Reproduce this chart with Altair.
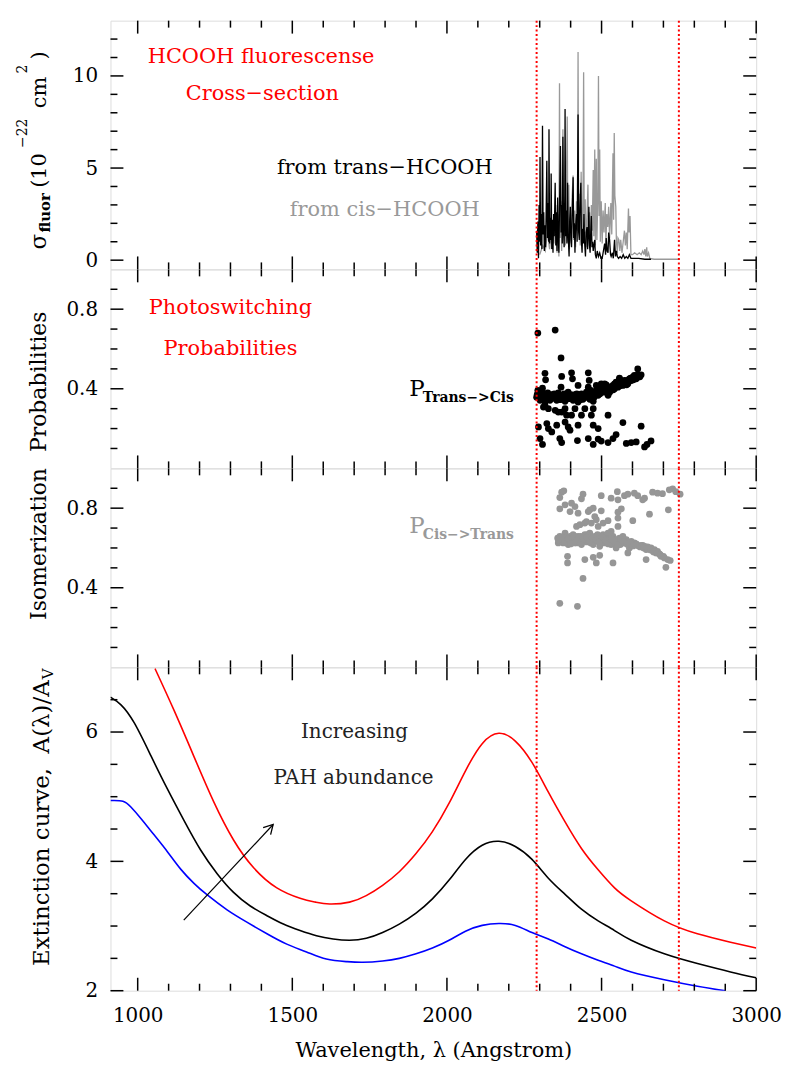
import altair as alt
import pandas as pd

FONT = "DejaVu Serif"
W = 649
H1, H2, H3, H4 = 250, 200, 200, 325

# ---------------- shared x ----------------
X_DOMAIN = [912, 3000]
X_MAJOR = [1000, 1500, 2000, 2500, 3000]
X_MINOR = [1100, 1200, 1300, 1400, 1600, 1700, 1800, 1900,
           2100, 2200, 2300, 2400, 2600, 2700, 2800, 2900]
WINDOW = [2290, 2750]

# ---------------- panel 1: fluorescence cross-section ----------------
SIG_DOMAIN = [-0.5, 13]
SIG_MAJOR = [0, 5, 10]
SIG_MINOR = [1, 2, 3, 4, 6, 7, 8, 9, 11, 12]

TRANS_WL = [2290, 2292, 2294, 2296, 2298, 2300, 2301, 2303, 2305, 2307, 2309, 2311, 2313, 2315,
            2317, 2319, 2321, 2323, 2325, 2327, 2329, 2330, 2332, 2334, 2336, 2337, 2339, 2341,
            2343, 2345, 2347, 2350, 2352, 2354, 2356, 2358, 2360, 2362, 2364, 2367, 2369, 2371,
            2373, 2375, 2377, 2379, 2381, 2382, 2384, 2386, 2388, 2390, 2392, 2395, 2397, 2399,
            2401, 2403, 2405, 2408, 2410, 2412, 2414, 2416, 2419, 2421, 2424, 2426, 2428, 2430,
            2433, 2435, 2437, 2439, 2441, 2443, 2445, 2448, 2450, 2453, 2455, 2457, 2459, 2461,
            2463, 2465, 2467, 2469, 2471, 2473, 2476, 2478, 2480, 2483, 2486, 2490, 2494, 2498,
            2502, 2506, 2510, 2513, 2515, 2518, 2521, 2523, 2526, 2529, 2531, 2535, 2538, 2542,
            2545, 2548, 2551, 2555, 2560, 2565, 2570, 2575, 2580, 2585, 2590, 2595, 2605, 2620,
            2640, 2660]
TRANS_SIG = [1.6, 0.4, 2.1, 0.1, 3.0, 1.0, 5.6, 0.8, 2.5, 0.6, 7.3, 1.4, 2.6, 0.5,
             1.9, 0.7, 2.8, 5.4, 1.2, 3.1, 1.0, 7.1, 0.9, 2.3, 1.1, 4.7, 0.6, 2.2,
             0.4, 2.5, 1.3, 4.2, 0.8, 2.6, 0.5, 3.4, 1.2, 0.4, 2.8, 6.2, 1.5, 3.0,
             0.9, 6.7, 1.6, 0.7, 3.5, 8.2, 1.3, 2.7, 0.9, 4.2, 1.4, 0.2, 2.2, 2.9,
             1.1, 0.7, 2.4, 4.5, 1.2, 2.0, 0.4, 1.8, 2.5, 1.0, 7.9, 1.5, 1.1, 2.8,
             4.2, 1.0, 0.4, 1.7, 0.9, 2.5, 1.0, 0.2, 1.5, 1.8, 0.6, 1.4, 2.9, 0.8,
             0.4, 1.5, 2.4, 0.7, 1.0, 0.5, 0.9, 1.1, 0.3, 0.1, 0.5, 0.2, 0.4, 0.1,
             0.1, 0.5, 0.9, 0.3, 1.2, 0.5, 0.4, 1.5, 1.1, 0.3, 0.2, 0.4, 0.1, 1.1,
             0.2, 0.5, 0.2, 0.1, 0.2, 0.1, 0.3, 0.1, 0.2, 0.1, 0.3, 0.1, 0.1, 0.1,
             0.05, 0.05]

CIS_WL = [2300, 2310, 2318, 2325, 2332, 2340, 2346, 2352, 2356, 2360, 2362, 2364, 2366, 2369,
          2371, 2375, 2377, 2380, 2383, 2386, 2389, 2391, 2394, 2396, 2399, 2402, 2405, 2408,
          2410, 2413, 2416, 2419, 2422, 2424, 2426, 2429, 2431, 2434, 2437, 2440, 2442, 2444,
          2447, 2450, 2453, 2456, 2458, 2461, 2464, 2467, 2470, 2473, 2475, 2478, 2480, 2483,
          2485, 2488, 2490, 2492, 2494, 2496, 2499, 2502, 2505, 2508, 2512, 2514, 2517, 2520,
          2523, 2526, 2530, 2533, 2537, 2539, 2541, 2543, 2546, 2548, 2551, 2553, 2556, 2559,
          2562, 2566, 2570, 2574, 2577, 2580, 2583, 2587, 2589, 2592, 2595, 2600, 2607, 2615,
          2622, 2628, 2633, 2637, 2640, 2643, 2646, 2648, 2652, 2656, 2670, 2700, 2751]
CIS_SIG = [0.3, 0.8, 0.5, 1.5, 0.6, 2.0, 0.9, 3.0, 0.4, 2.5, 0.2, 9.6, 1.2, 3.2,
           0.5, 7.1, 1.3, 2.6, 0.8, 3.8, 7.8, 1.0, 4.1, 0.6, 2.0, 0.9, 3.5, 4.6,
           1.1, 2.7, 0.7, 3.2, 1.6, 11.3, 2.1, 3.6, 0.8, 4.8, 1.3, 2.9, 10.2, 1.8,
           3.3, 0.7, 2.4, 4.1, 1.2, 2.6, 0.9, 3.0, 1.6, 4.9, 1.3, 6.0, 0.8, 5.5,
           1.1, 3.4, 10.0, 2.4, 6.0, 1.0, 3.2, 0.9, 2.7, 1.5, 3.1, 0.9, 2.5, 1.8,
           2.9, 1.2, 3.1, 1.4, 5.8, 2.2, 6.9, 3.5, 2.9, 1.0, 0.4, 1.2, 1.1, 0.5,
           1.1, 0.4, 1.0, 1.6, 0.8, 1.5, 0.6, 2.8, 1.5, 2.4, 0.3, 0.3, 0.4, 0.3,
           0.4, 0.3, 0.5, 0.3, 0.6, 0.2, 0.7, 0.2, 0.4, 0.1, 0.05, 0.05, 0.05]

# ---------------- panels 2 & 3: isomerization probabilities ----------------
P_DOMAIN = [0, 1]
P_MAJOR = [0.4, 0.8]
P_MINOR = [0.1, 0.2, 0.3, 0.5, 0.6, 0.7, 0.9]

T2C_WL = [2294, 2350, 2369, 2317, 2319, 2371, 2403, 2406, 2457, 2460, 2617, 2623, 2606, 2558,
          2542, 2585, 2499, 2483, 2515, 2424, 2369, 2309,
          2290, 2296, 2301, 2307, 2312, 2317, 2323, 2328, 2333, 2339, 2344, 2350, 2355, 2360,
          2365, 2371, 2376, 2382, 2387, 2392, 2398, 2403, 2408, 2414, 2419, 2424, 2430, 2435,
          2440, 2446, 2451, 2457, 2462, 2467, 2473, 2478, 2483, 2489, 2494, 2499, 2505, 2510,
          2515, 2521, 2531, 2537, 2542, 2547, 2553, 2558, 2564, 2569, 2574, 2580, 2585, 2590,
          2596, 2601, 2606, 2612, 2617, 2623, 2628,
          2294, 2304, 2315, 2326, 2336, 2347, 2358, 2379, 2390, 2401, 2411, 2422, 2433, 2444,
          2454, 2465, 2476, 2487, 2497, 2508, 2526, 2540, 2551, 2561, 2572, 2583, 2594,
          2292, 2302, 2313, 2324, 2334, 2345, 2356, 2366, 2377, 2388, 2398, 2409, 2420, 2431,
          2441, 2452, 2463, 2474, 2484, 2495, 2506, 2517, 2527, 2538, 2549, 2560, 2570, 2581,
          2592, 2603, 2614, 2624,
          2317, 2312, 2328, 2350, 2360, 2371, 2382, 2387, 2403, 2414, 2435, 2446, 2467, 2473,
          2521, 2296, 2323, 2328, 2339, 2355, 2382, 2392, 2398, 2424, 2473, 2489, 2569, 2628,
          2301, 2309, 2365, 2371, 2422, 2457, 2473, 2489, 2499, 2521, 2547, 2537, 2580, 2596,
          2612, 2639, 2647, 2660]
T2C_P = [0.68, 0.695, 0.555, 0.478, 0.445, 0.462, 0.48, 0.45, 0.48, 0.442, 0.5, 0.467, 0.463, 0.453,
         0.425, 0.437, 0.425, 0.417, 0.42, 0.417, 0.408, 0.403,
         0.358, 0.375, 0.342, 0.383, 0.35, 0.333, 0.367, 0.358, 0.342, 0.37, 0.353, 0.367, 0.342, 0.38,
         0.358, 0.35, 0.367, 0.337, 0.363, 0.383, 0.35, 0.358, 0.342, 0.37, 0.353, 0.333, 0.363, 0.375,
         0.347, 0.358, 0.383, 0.408, 0.347, 0.367, 0.337, 0.38, 0.392, 0.367, 0.4, 0.417, 0.383, 0.425,
         0.403, 0.367, 0.392, 0.417, 0.4, 0.433, 0.408, 0.45, 0.425, 0.417, 0.442, 0.433, 0.425, 0.45,
         0.442, 0.458, 0.467, 0.45, 0.47, 0.467, 0.47,
         0.392, 0.367, 0.358, 0.38, 0.35, 0.375, 0.358, 0.375, 0.35, 0.37, 0.347, 0.367, 0.35, 0.37,
         0.358, 0.392, 0.358, 0.383, 0.392, 0.4, 0.383, 0.408, 0.425, 0.433, 0.425, 0.442, 0.453,
         0.372, 0.36, 0.376, 0.345, 0.365, 0.36, 0.37, 0.345, 0.355, 0.375, 0.365, 0.36, 0.375, 0.345,
         0.37, 0.365, 0.375, 0.37, 0.38, 0.375, 0.395, 0.385, 0.41, 0.395, 0.42, 0.415, 0.435, 0.42,
         0.44, 0.445, 0.455, 0.46,
         0.317, 0.308, 0.3, 0.292, 0.283, 0.283, 0.3, 0.267, 0.267, 0.3, 0.267, 0.3, 0.267, 0.3,
         0.267, 0.208, 0.225, 0.2, 0.183, 0.217, 0.233, 0.208, 0.192, 0.217, 0.217, 0.2, 0.23, 0.212,
         0.15, 0.12, 0.15, 0.13, 0.14, 0.15, 0.12, 0.147, 0.137, 0.13, 0.17, 0.15, 0.125, 0.13,
         0.133, 0.108, 0.12, 0.138]

C2T_WL = [2371, 2378, 2365, 2440, 2435, 2499, 2531, 2551, 2553, 2574, 2585, 2606, 2617, 2633,
          2639, 2665, 2681, 2697, 2719, 2730, 2740, 2754,
          2365, 2382, 2403, 2414, 2398, 2424, 2457, 2462, 2473, 2499, 2478, 2483, 2553, 2564,
          2553, 2655, 2716, 2601,
          2419, 2430, 2446, 2451, 2467, 2489, 2505, 2521, 2553, 2531,
          2358, 2365, 2371, 2376, 2382, 2387, 2392, 2398, 2403, 2408, 2414, 2419, 2424, 2430,
          2435, 2440, 2446, 2451, 2457, 2462, 2467, 2473, 2478, 2483, 2489, 2494, 2499, 2505,
          2510, 2515, 2521, 2526, 2531, 2537, 2542, 2547, 2553, 2558, 2564, 2569, 2574, 2580,
          2585, 2590, 2596, 2601, 2606, 2612, 2617, 2628, 2639, 2644, 2649, 2660, 2665, 2671,
          2676, 2681, 2687, 2692, 2703, 2714, 2722, 2360, 2362,
          2369, 2379, 2390, 2401, 2411, 2422, 2433, 2444, 2454, 2465, 2476, 2487, 2497, 2508,
          2519, 2529, 2540, 2551, 2561, 2572, 2583, 2594, 2622, 2633,
          2360, 2370, 2380, 2392, 2400, 2412, 2420, 2432, 2442, 2452, 2462, 2472, 2482, 2492,
          2502, 2512, 2522, 2532, 2542, 2552, 2562, 2572, 2582, 2592, 2602, 2612, 2625, 2636,
          2648, 2658, 2668, 2680, 2690, 2700,
          2390, 2390, 2446, 2473, 2483, 2494, 2537, 2585, 2644, 2708, 2440, 2365, 2422]
C2T_P = [0.88, 0.887, 0.853, 0.87, 0.847, 0.863, 0.85, 0.883, 0.842, 0.863, 0.87, 0.875, 0.863, 0.842,
         0.85, 0.88, 0.875, 0.873, 0.892, 0.897, 0.883, 0.87,
         0.797, 0.817, 0.825, 0.808, 0.783, 0.775, 0.783, 0.792, 0.8, 0.787, 0.758, 0.742, 0.78, 0.797,
         0.75, 0.77, 0.792, 0.737,
         0.708, 0.717, 0.725, 0.733, 0.725, 0.708, 0.725, 0.737, 0.708, 0.683,
         0.65, 0.658, 0.642, 0.625, 0.675, 0.65, 0.617, 0.658, 0.633, 0.667, 0.642, 0.625, 0.658, 0.637,
         0.617, 0.653, 0.667, 0.63, 0.65, 0.675, 0.642, 0.617, 0.658, 0.633, 0.65, 0.608, 0.642, 0.667,
         0.625, 0.65, 0.675, 0.633, 0.617, 0.658, 0.642, 0.6, 0.625, 0.65, 0.633, 0.658, 0.625, 0.642,
         0.617, 0.6, 0.633, 0.617, 0.625, 0.62, 0.613, 0.613, 0.608, 0.592, 0.605, 0.6, 0.587, 0.592,
         0.575, 0.583, 0.57, 0.558, 0.55, 0.542, 0.537, 0.625, 0.642,
         0.633, 0.647, 0.637, 0.647, 0.625, 0.647, 0.658, 0.637, 0.667, 0.625, 0.647, 0.667, 0.625, 0.647,
         0.625, 0.65, 0.63, 0.642, 0.617, 0.642, 0.63, 0.617, 0.608, 0.613,
         0.64, 0.655, 0.63, 0.645, 0.62, 0.66, 0.64, 0.625, 0.645, 0.655, 0.635, 0.65, 0.64, 0.63,
         0.655, 0.64, 0.62, 0.645, 0.63, 0.615, 0.645, 0.63, 0.62, 0.625, 0.61, 0.615, 0.605, 0.6,
         0.595, 0.59, 0.58, 0.575, 0.565, 0.558,
         0.558, 0.525, 0.542, 0.553, 0.525, 0.563, 0.525, 0.575, 0.542, 0.503, 0.447, 0.322, 0.307]

# ---------------- panel 4: extinction curves ----------------
EXT_DOMAIN = [2, 7]
EXT_MAJOR = [2, 4, 6]
EXT_MINOR = [2.5, 3, 3.5, 4.5, 5, 5.5, 6.5]

RED_WL = [1056, 1118, 1182, 1246, 1310, 1375, 1450, 1525, 1575, 1621, 1685, 1739, 1792,
          1846, 1900, 1953, 2007, 2060, 2114, 2168, 2221, 2275, 2328, 2382, 2435, 2489,
          2542, 2596, 2703, 2810, 2917, 3000]
RED_A = [6.98, 6.33, 5.62, 4.92, 4.33, 3.90, 3.59, 3.43, 3.37, 3.34, 3.37, 3.47, 3.63,
         3.84, 4.12, 4.46, 4.90, 5.40, 5.82, 5.98, 5.86, 5.53, 5.07, 4.61, 4.20, 3.87,
         3.59, 3.39, 3.08, 2.88, 2.75, 2.66]
BLACK_WL = [912, 946, 989, 1043, 1096, 1150, 1203, 1257, 1310, 1364, 1418, 1471, 1525, 1578,
            1632, 1685, 1739, 1792, 1846, 1900, 1953, 2007, 2060, 2114, 2168, 2221, 2275,
            2328, 2382, 2435, 2489, 2542, 2596, 2703, 2810, 2917, 3000]
BLACK_A = [6.54, 6.42, 6.14, 5.63, 5.12, 4.63, 4.18, 3.81, 3.52, 3.31, 3.16, 3.03, 2.93, 2.85,
           2.80, 2.78, 2.81, 2.90, 3.03, 3.20, 3.42, 3.71, 4.03, 4.25, 4.31, 4.23, 4.03,
           3.74, 3.49, 3.26, 3.08, 2.93, 2.78, 2.57, 2.42, 2.29, 2.20]
BLUE_WL = [912, 952, 978, 1011, 1053, 1096, 1139, 1182, 1225, 1289, 1353, 1418, 1482, 1546,
           1610, 1675, 1728, 1792, 1846, 1900, 1953, 2007, 2060, 2114, 2168, 2221, 2275,
           2328, 2382, 2435, 2489, 2542, 2596, 2703, 2810, 2901]
BLUE_A = [4.94, 4.93, 4.84, 4.66, 4.41, 4.15, 3.88, 3.66, 3.48, 3.25, 3.06, 2.88, 2.72, 2.60,
          2.49, 2.45, 2.44, 2.46, 2.50, 2.57, 2.66, 2.78, 2.92, 3.01, 3.04, 3.01, 2.90,
          2.80, 2.68, 2.57, 2.47, 2.38, 2.29, 2.17, 2.07, 2.00]
ARROW_WL = [1149, 1438]
ARROW_A = [3.09, 4.57]

RED = "#ff0000"
GRAY = "#999999"
DOTGRAY = "#969696"
MAJ_LEN, MIN_LEN = 13, 7
NB = "\u00a0"


def make_x(axis):
    return alt.X("wl:Q", scale=alt.Scale(domain=X_DOMAIN, nice=False, zero=False), axis=axis)


def make_y(domain, labels, fmt):
    return alt.Y("v:Q", scale=alt.Scale(domain=domain, nice=False, zero=False),
                 axis=alt.Axis(values=labels, format=fmt, ticks=False, tickSize=0, domain=False,
                               grid=False, title=None, labelPadding=13, labelFont=FONT,
                               labelFontSize=20, labelColor="black"))


def frame_layers(X, Y, h, ymaj, ymin):
    out = []
    for vals, L in ((X_MAJOR, MAJ_LEN), (X_MINOR, MIN_LEN)):
        base = alt.Chart(pd.DataFrame({"wl": vals})).mark_rule(color="black", strokeWidth=1.5)
        out.append(base.encode(x=X, y=alt.value(0), y2=alt.value(L)))
        out.append(base.encode(x=X, y=alt.value(h), y2=alt.value(h - L)))
    for vals, L in ((ymaj, MAJ_LEN), (ymin, MIN_LEN)):
        base = alt.Chart(pd.DataFrame({"v": vals})).mark_rule(color="black", strokeWidth=1.5)
        out.append(base.encode(y=Y, x=alt.value(0), x2=alt.value(L)))
        out.append(base.encode(y=Y, x=alt.value(W), x2=alt.value(W - L)))
    out.append(alt.Chart(pd.DataFrame({"wl": WINDOW})).mark_rule(
        color=RED, strokeWidth=2, strokeDash=[2, 2.5]).encode(
        x=X, y=alt.value(0), y2=alt.value(h)))
    out.append(alt.Chart(pd.DataFrame({"s": [0]})).mark_rule(color="white", strokeWidth=1).encode(
        x=alt.value(-101.5), y=alt.value(0), y2=alt.value(2)))
    return out


def dtxt(text, wl, v, X, Y, **kw):
    df = pd.DataFrame({"wl": [wl], "v": [v], "t": [text]})
    return alt.Chart(df).mark_text(font=FONT, **kw).encode(x=X, y=Y, text="t:N")


def ptxt(text, px, py, **kw):
    df = pd.DataFrame({"t": [text]})
    return alt.Chart(df).mark_text(font=FONT, **kw).encode(x=alt.value(px), y=alt.value(py), text="t:N")


# ---------------- panel 1 ----------------
X = make_x(None)
Y1 = make_y(SIG_DOMAIN, SIG_MAJOR, "d")
cis = alt.Chart(pd.DataFrame({"wl": CIS_WL, "v": CIS_SIG})).mark_line(
    color=GRAY, strokeWidth=1.3).encode(x=X, y=Y1)
trans = alt.Chart(pd.DataFrame({"wl": TRANS_WL, "v": TRANS_SIG})).mark_line(
    color="black", strokeWidth=1.3).encode(x=X, y=Y1)
rot = dict(angle=270, align="left", baseline="alphabetic", color="black")
p1 = alt.layer(
    cis, trans,
    dtxt("HCOOH fluorescense", 1399, 11.0, X, Y1, color=RED, fontSize=21),
    dtxt("Cross−section", 1403, 9.0, X, Y1, color=RED, fontSize=21),
    dtxt("from trans−HCOOH", 1799, 5.0, X, Y1, color="black", fontSize=21),
    dtxt("from cis−HCOOH", 1799, 2.71, X, Y1, color=GRAY, fontSize=21),
    ptxt("σ", -65, 230, fontSize=23, **rot),
    ptxt("fluor", -61, 213, fontSize=15, fontWeight="bold", **rot),
    ptxt("(10", -65, 168, fontSize=21, **rot),
    ptxt("−22", -84, 128, fontSize=14, **rot),
    ptxt("cm", -65, 88, fontSize=21, **rot),
    ptxt("2", -84, 53, fontSize=14, **rot),
    ptxt(")", -65, 39, fontSize=21, **rot),
    *frame_layers(X, Y1, H1, SIG_MAJOR, SIG_MINOR),
).properties(width=W, height=H1)

# ---------------- panel 2 ----------------
Y2 = make_y(P_DOMAIN, P_MAJOR, ".1f")
pts2 = alt.Chart(pd.DataFrame({"wl": T2C_WL, "v": T2C_P})).mark_circle(
    size=46, color="black", opacity=1).encode(x=X, y=Y2)
p2 = alt.layer(
    pts2,
    dtxt("Photoswitching", 1300, 0.805, X, Y2, color=RED, fontSize=21),
    dtxt("Probabilities", 1300, 0.6, X, Y2, color=RED, fontSize=21),
    dtxt("P", 1878, 0.40, X, Y2, color="black", fontSize=23, align="left"),
    dtxt("Trans−>Cis", 1922, 0.355, X, Y2, color="black", fontSize=14, fontWeight="bold", align="left"),
    ptxt("Probabilities", -65, 113, fontSize=22, angle=270, align="center",
         baseline="alphabetic", color="black"),
    *frame_layers(X, Y2, H2, P_MAJOR, P_MINOR),
).properties(width=W, height=H2)

# ---------------- panel 3 ----------------
Y3 = make_y(P_DOMAIN, P_MAJOR, ".1f")
pts3 = alt.Chart(pd.DataFrame({"wl": C2T_WL, "v": C2T_P})).mark_circle(
    size=46, color=DOTGRAY, opacity=1).encode(x=X, y=Y3)
p3 = alt.layer(
    pts3,
    dtxt("P", 1878, 0.71, X, Y3, color=GRAY, fontSize=23, align="left"),
    dtxt("Cis−>Trans", 1922, 0.665, X, Y3, color=GRAY, fontSize=14, fontWeight="bold", align="left"),
    ptxt("Isomerization", -65, 76, fontSize=22, angle=270, align="center",
         baseline="alphabetic", color="black"),
    *frame_layers(X, Y3, H3, P_MAJOR, P_MINOR),
).properties(width=W, height=H3)

# ---------------- panel 4 ----------------
XAX = alt.Axis(values=X_MAJOR, format="d", ticks=False, tickSize=0, domain=False, grid=False,
               labelFlush=False, labelFont=FONT, labelFontSize=20, labelColor="black",
               labelPadding=15, title="Wavelength, λ (Angstrom)", titleFont=FONT,
               titleFontSize=21, titleFontWeight="normal", titleColor="black", titlePadding=14)
X4 = make_x(XAX)
Y4 = make_y(EXT_DOMAIN, EXT_MAJOR, "d")
ext = pd.concat([
    pd.DataFrame({"wl": RED_WL, "v": RED_A, "s": "red"}),
    pd.DataFrame({"wl": BLACK_WL, "v": BLACK_A, "s": "black"}),
    pd.DataFrame({"wl": BLUE_WL, "v": BLUE_A, "s": "blue"}),
])
curves = alt.Chart(ext).mark_line(strokeWidth=1.6, interpolate="natural", clip=True).encode(
    x=X4, y=Y4,
    color=alt.Color("s:N", scale=alt.Scale(domain=["red", "black", "blue"],
                                           range=[RED, "black", "#0000ff"]), legend=None),
    detail="s:N")
arrow_df = pd.DataFrame({"wl": ARROW_WL, "v": ARROW_A})
arrow_line = alt.Chart(arrow_df).mark_line(color="black", strokeWidth=1.2).encode(x=X4, y=Y4)
arrow_head = alt.Chart(arrow_df.tail(1)).mark_point(
    shape="M -0.5 0.9 L 0 0 L 0.5 0.9", filled=False, size=420, angle=43,
    color="black", strokeWidth=1.3, opacity=1).encode(x=X4, y=Y4)
p4 = alt.layer(
    curves, arrow_line, arrow_head,
    dtxt("Increasing", 1701, 6.0, X4, Y4, color="#222222", fontSize=20),
    dtxt("PAH abundance", 1698, 5.29, X4, Y4, color="#222222", fontSize=20),
    ptxt("Extinction" + NB + "curve," + NB + NB + "A(λ)/A", -62, 13, fontSize=23, angle=270,
         align="right", baseline="alphabetic", color="black"),
    ptxt("V", -58, 12, fontSize=15, angle=270, align="left", baseline="alphabetic", color="black"),
    *frame_layers(X4, Y4, H4, EXT_MAJOR, EXT_MINOR),
).properties(width=W, height=H4)

chart = alt.vconcat(p1, p2, p3, p4, spacing=0, bounds="flush").properties(
    padding={"left": 0, "top": 8, "right": 10, "bottom": 10}
).configure_view(stroke="black", strokeWidth=1.5).configure(background="white")

chart.save("out.html", embed_options={"renderer": "svg", "actions": False})
